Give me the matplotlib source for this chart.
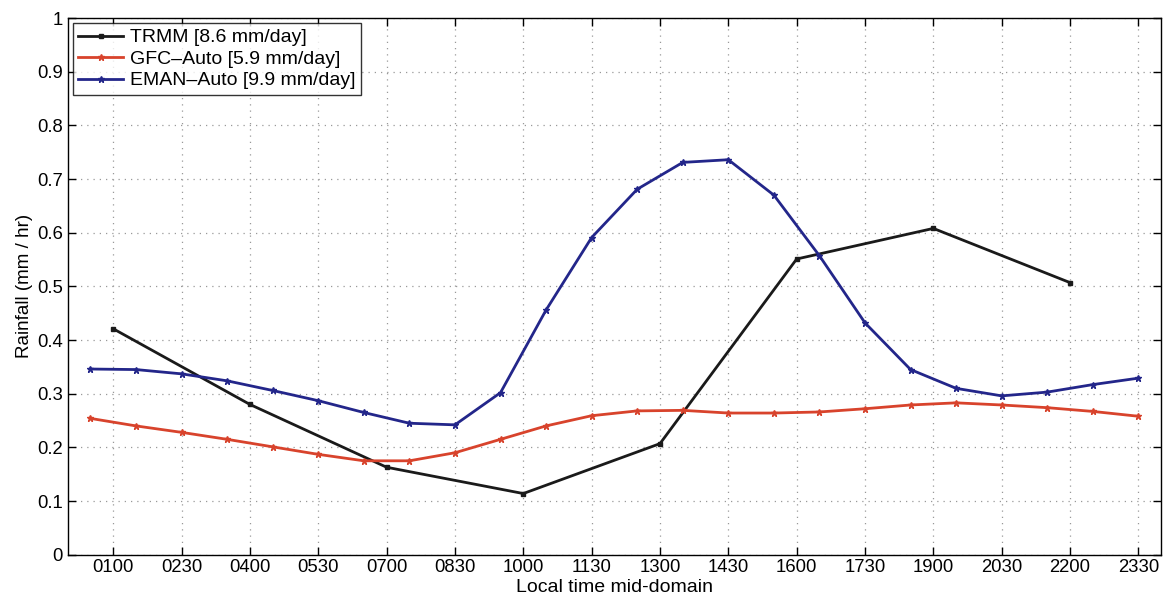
import matplotlib
matplotlib.use('Agg')
import matplotlib.pyplot as plt
import numpy as np

plt.rcParams['font.family'] = ['Liberation Sans', 'DejaVu Sans']
plt.rcParams['font.size'] = 13

# hourly model output, mid-hour local time
model_hours = [0.5, 1.5, 2.5, 3.5, 4.5, 5.5, 6.5, 7.5, 8.5, 9.5, 10.5, 11.5,
               12.5, 13.5, 14.5, 15.5, 16.5, 17.5, 18.5, 19.5, 20.5, 21.5, 22.5, 23.5]
gfc_auto = [0.254, 0.240, 0.228, 0.215, 0.201, 0.187, 0.175, 0.175, 0.190, 0.215, 0.240, 0.259,
            0.268, 0.269, 0.264, 0.264, 0.266, 0.272, 0.279, 0.283, 0.279, 0.274, 0.267, 0.258]
eman_auto = [0.346, 0.345, 0.337, 0.324, 0.306, 0.287, 0.265, 0.245, 0.242, 0.302, 0.456, 0.591,
             0.681, 0.731, 0.736, 0.670, 0.557, 0.432, 0.345, 0.310, 0.296, 0.303, 0.317, 0.329]

# 3-hourly observations
trmm_hours = [1, 4, 7, 10, 13, 16, 19, 22]
trmm = [0.421, 0.280, 0.163, 0.114, 0.207, 0.551, 0.608, 0.507]

tick_hours = np.arange(1, 24, 1.5)
tick_labels = ['0100', '0230', '0400', '0530', '0700', '0830', '1000', '1130',
               '1300', '1430', '1600', '1730', '1900', '2030', '2200', '2330']

fig = plt.figure(figsize=(11.67, 6.01), dpi=100)
ax = fig.add_axes([0.058, 0.077, 0.937, 0.893])

ax.plot(trmm_hours, trmm, color='#1a1a1a', lw=2, marker='s', ms=3.5,
        label='TRMM [8.6 mm/day]')
ax.plot(model_hours, gfc_auto, color='#d8432c', lw=2, marker='*', ms=5,
        label='GFC\u2013Auto [5.9 mm/day]')
ax.plot(model_hours, eman_auto, color='#23268a', lw=2, marker='*', ms=5,
        label='EMAN\u2013Auto [9.9 mm/day]')

ax.set_xlim(0, 24)
ax.set_ylim(0, 1)
ax.set_xticks(tick_hours)
ax.set_xticklabels(tick_labels)
ax.set_yticks(np.arange(0, 1.01, 0.1))
ax.set_yticklabels(['0', '0.1', '0.2', '0.3', '0.4', '0.5', '0.6', '0.7', '0.8', '0.9', '1'])
ax.tick_params(direction='in', top=True, right=True, length=6, width=1,
               labelsize=13.3)
ax.tick_params(axis='x', pad=3)
ax.grid(True, linestyle=(0, (1, 4)), color='#999999', lw=0.9)
for s in ax.spines.values():
    s.set_linewidth(1)

ax.set_xlabel('Local time mid-domain', fontsize=14, labelpad=2)
ax.set_ylabel('Rainfall (mm / hr)', fontsize=13.5, labelpad=3)

leg = ax.legend(loc='upper left', fontsize=14, frameon=True, fancybox=False,
                edgecolor='black', borderaxespad=0.25, handlelength=2.3,
                handletextpad=0.35, labelspacing=0.2, borderpad=0.3)
leg.get_frame().set_linewidth(1)

fig.savefig('out.png', dpi=100)
